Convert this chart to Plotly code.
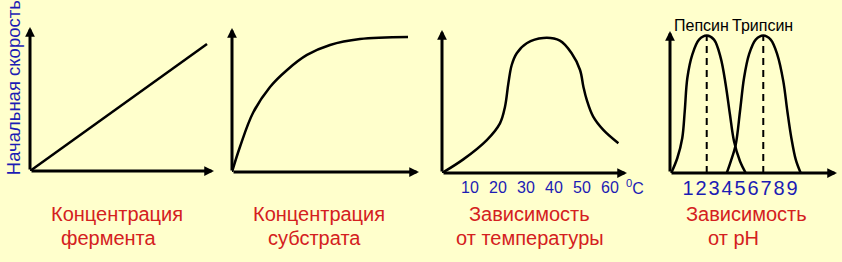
import plotly.graph_objects as go

W, H = 842, 262

# ---------------- data ----------------
enzyme_conc = [0, 10]
enzyme_rate = [0, 10]

substrate_conc = [0, 0.45, 1.19, 2.16, 3.13, 4.26, 5.57, 7.27, 10]
substrate_rate = [0, 18.5, 43.7, 63.0, 75.6, 86.7, 94.1, 98.5, 100]

temp_c = [0, 7.6, 16.0, 20.7, 22.5, 23.7, 24.9, 26.7, 30.25, 36.2, 42.1,
          46.3, 49.3, 50.5, 51.7, 54.0, 57.6, 63.0]
temp_rate = [0, 10.1, 24.4, 36.8, 49.1, 66.4, 80.0, 88.7, 96.1, 100, 98.0,
             88.7, 76.3, 63.9, 54.1, 41.7, 31.9, 22.0]
temp_ticks = [10, 20, 30, 40, 50, 60]

ph_pepsin = [-0.29, 0.18, 0.56, 0.75, 0.95, 1.33, 1.85, 2.44, 3.0, 3.52,
             3.9, 4.23, 4.54, 5.0, 5.44]
rate_pepsin = [0, 10.9, 25.5, 45.1, 69.1, 86.1, 97.0, 100, 97.0, 83.6,
               64.2, 42.4, 23.1, 8.5, 0]
ph_trypsin = [3.98, 4.29, 4.67, 5.0, 5.31, 5.69, 6.21, 6.79, 7.36, 7.87,
              8.33, 8.64, 8.95, 9.29, 9.67]
rate_trypsin = [0, 8.5, 20.6, 44.9, 69.1, 86.1, 97.0, 100, 97.0, 86.1,
                66.8, 45.1, 25.5, 9.7, 0]
ph_ticks = [1, 2, 3, 4, 5, 6, 7, 8, 9]
pepsin_opt = 2.44
trypsin_opt = 6.79
optimum_rate = 100
enzymes = ["Пепсин", "Трипсин"]

y_title = "Начальная скорость"
captions = [["Концентрация", "фермента"],
            ["Концентрация", "субстрата"],
            ["Зависимость", "от температуры"],
            ["Зависимость", "от pH"]]
temp_unit = "<sup>0</sup>C"

# ---------------- styling / geometry ----------------
BG = "#FFFFCC"
RED = "#D42020"
BLUE = "#1C1CB4"
FONT = "Arial, 'Liberation Sans', sans-serif"

# origin_x, origin_y, tip_x, tip_y (pixels), x at origin, px per x unit, px per y unit
panels = [
    (30, 171, 214, 27, 0.0, 17.7, 12.7),
    (232, 172, 419, 28, 0.0, 17.6, 1.35),
    (442, 173, 627, 30, 0.0, 2.8, 1.35),
    (670, 173, 837, 31, 1 - 18 / 13, 13.0, 1.375),
]

fig = go.Figure()
layout = dict(
    width=W, height=H, margin=dict(l=0, r=0, t=0, b=0),
    paper_bgcolor=BG, plot_bgcolor=BG, showlegend=False,
    font=dict(family=FONT),
)
annotations = []

for i, (ox, oy, tx, ty, x0, sx, sy) in enumerate(panels, start=1):
    sfx = "" if i == 1 else str(i)
    xr = [x0, x0 + (tx - ox) / sx]
    yr = [0, (oy - ty) / sy]
    layout["xaxis" + sfx] = dict(
        domain=[ox / W, tx / W], range=xr, showgrid=False, zeroline=False,
        showline=False, showticklabels=False, ticks="", fixedrange=True,
        anchor="y" + sfx)
    layout["yaxis" + sfx] = dict(
        domain=[1 - oy / H, 1 - ty / H], range=yr, showgrid=False,
        zeroline=False, showline=False, showticklabels=False, ticks="",
        fixedrange=True, anchor="x" + sfx)
    xref, yref = "x" + sfx, "y" + sfx
    # axis arrows
    for (hx, hy) in [(xr[1], 0), (xr[0], yr[1])]:
        annotations.append(dict(
            x=hx, y=hy, ax=xr[0], ay=0, xref=xref, yref=yref, axref=xref, ayref=yref,
            text="", showarrow=True, arrowhead=2, arrowsize=0.65, arrowwidth=3,
            arrowcolor="black"))

# tick labels
layout["xaxis3"].update(showticklabels=True, tickvals=temp_ticks, tickangle=0,
                        ticklabelstandoff=3,
                        tickfont=dict(size=16, color=BLUE, family=FONT))
layout["xaxis4"].update(showticklabels=True, tickvals=ph_ticks, tickangle=0,
                        ticklabelstandoff=1,
                        tickfont=dict(size=20, color=BLUE, family=FONT))

line = dict(color="black", width=2.5)
fig.add_trace(go.Scatter(x=enzyme_conc, y=enzyme_rate, mode="lines", line=line,
                         xaxis="x", yaxis="y", hoverinfo="skip"))
fig.add_trace(go.Scatter(x=substrate_conc, y=substrate_rate, mode="lines",
                         line=dict(line, shape="spline"), xaxis="x2", yaxis="y2",
                         hoverinfo="skip"))
fig.add_trace(go.Scatter(x=temp_c, y=temp_rate, mode="lines",
                         line=dict(line, shape="spline"), xaxis="x3", yaxis="y3",
                         hoverinfo="skip"))
fig.add_trace(go.Scatter(x=ph_pepsin, y=rate_pepsin, mode="lines",
                         line=dict(line, shape="spline"), xaxis="x4", yaxis="y4",
                         hoverinfo="skip"))
fig.add_trace(go.Scatter(x=ph_trypsin, y=rate_trypsin, mode="lines",
                         line=dict(line, shape="spline"), xaxis="x4", yaxis="y4",
                         hoverinfo="skip"))
for opt in (pepsin_opt, trypsin_opt):
    fig.add_trace(go.Scatter(x=[opt, opt], y=[0, optimum_rate], mode="lines",
                             line=dict(color="black", width=2, dash="7px,5px"),
                             xaxis="x4", yaxis="y4", hoverinfo="skip"))

# enzyme names
for name, opt, xs in zip(enzymes, (pepsin_opt, trypsin_opt), (-5, -1)):
    annotations.append(dict(x=opt, y=optimum_rate, xref="x4", yref="y4", text=name,
                            showarrow=False, xshift=xs, yshift=10,
                            xanchor="center", yanchor="middle",
                            font=dict(size=16, color="black", family=FONT)))

# y title
annotations.append(dict(x=13.7 / W, y=1 - 87.5 / H, xref="paper", yref="paper",
                        text=y_title, textangle=-90, showarrow=False,
                        xanchor="center", yanchor="middle",
                        font=dict(size=18.5, color=BLUE, family=FONT)))
# temperature unit
annotations.append(dict(x=635 / W, y=1 - 187 / H, xref="paper", yref="paper",
                        text=temp_unit, showarrow=False,
                        xanchor="center", yanchor="middle",
                        font=dict(size=16, color=BLUE, family=FONT)))

# captions
cap_pos = [[(117, 214), (109, 238)], [(319, 214), (314, 238)],
           [(529, 214), (530, 238)], [(746, 214), (733, 238)]]
for lines, poss in zip(captions, cap_pos):
    for txt, (cx, cy) in zip(lines, poss):
        annotations.append(dict(x=cx / W, y=1 - cy / H, xref="paper", yref="paper",
                                text=txt, showarrow=False,
                                xanchor="center", yanchor="middle",
                                font=dict(size=20, color=RED, family=FONT)))

layout["annotations"] = annotations
fig.update_layout(**layout)
fig.write_html("out.html")
